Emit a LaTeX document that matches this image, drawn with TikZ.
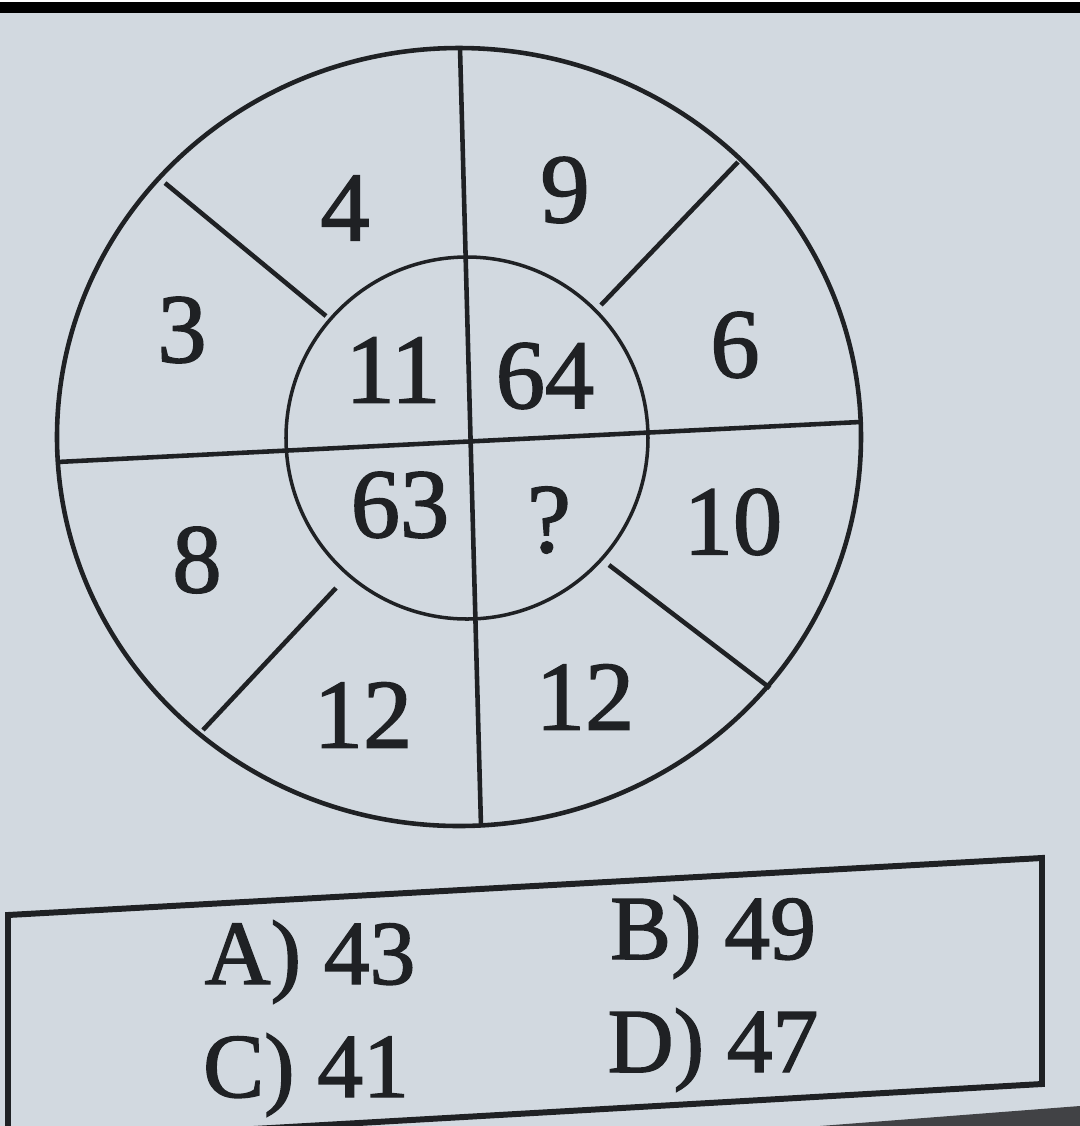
\documentclass[tikz,border=0pt]{standalone}
\usepackage{fontspec}
\setmainfont{Liberation Serif}
\newfontfamily\printfont[FakeBold=1.6]{Liberation Serif}
\definecolor{paper}{HTML}{D2D9E0}
\definecolor{ink}{HTML}{1F2124}
\tikzset{
    ring/.style={draw=ink, line width=1.3pt},
    num/.style={text=ink, font=\printfont\fontsize{28}{30}\selectfont, inner sep=0pt},
    answer/.style={text=ink, font=\printfont\fontsize{26}{28}\selectfont, inner sep=0pt},
}
\begin{document}
\begin{tikzpicture}[x=0.01cm, y=-0.01cm]
    \useasboundingbox (0,0) rectangle (1080,1126);
    \clip (0,0) rectangle (1080,1126);
    \fill[paper] (0,0) rectangle (1080,1126);
    \fill[white] (0,0) rectangle (1080,2);
    \fill[black] (0,2) rectangle (1080,13);
    \fill[ink!85] (820,1126) -- (1080,1106) -- (1080,1126) -- cycle;
    % circles
    \draw[ring] (459,437) ellipse (402 and 389);
    \draw[ring, line width=1pt] (467,438) circle (181);
    % spokes
    \coordinate (top) at (460,48);
    \coordinate (bot) at (481,826);
    \coordinate (lft) at (57,462);
    \coordinate (rgt) at (860,422);
    \draw[ring] (top) -- (bot);
    \draw[ring] (lft) -- (rgt);
    \coordinate (nwo) at (165,183);  \coordinate (nwi) at (326,316);
    \coordinate (neo) at (738,162);  \coordinate (nei) at (601,305);
    \coordinate (swo) at (203,730);  \coordinate (swi) at (336,588);
    \coordinate (seo) at (770,688);  \coordinate (sei) at (609,565);
    \draw[ring] (nwo) -- (nwi);
    \draw[ring] (neo) -- (nei);
    \draw[ring] (swo) -- (swi);
    \draw[ring] (seo) -- (sei);
    % outer numbers
    \node[num] (four)   at (345,208) {4};
    \node[num] (nine)   at (565,190) {9};
    \node[num] (three)  at (182,330) {3};
    \node[num] (six)    at (735,345) {6};
    \node[num] (eight)  at (197,560) {8};
    \node[num] (ten)    at (733,522) {10};
    \node[num] (twelveL) at (363,715) {12};
    \node[num] (twelveR) at (585,697) {12};
    % inner numbers
    \node[num] (eleven) at (393,370) {11};
    \node[num] (sixtyfour) at (545,376) {64};
    \node[num] (sixtythree) at (400,505) {63};
    \node[num] (quest)  at (549,520) {?};
    % answers
    \draw[draw=ink, line width=1.7pt] (8,915) -- (1042,858) -- (1042,1084) -- (8,1143) -- cycle;
    \node[answer] (ansA) at (310,962) {A) 43};
    \node[answer] (ansB) at (713,937) {B) 49};
    \node[answer] (ansC) at (306,1075) {C) 41};
    \node[answer] (ansD) at (713,1050) {D) 47};
\end{tikzpicture}
\end{document}
